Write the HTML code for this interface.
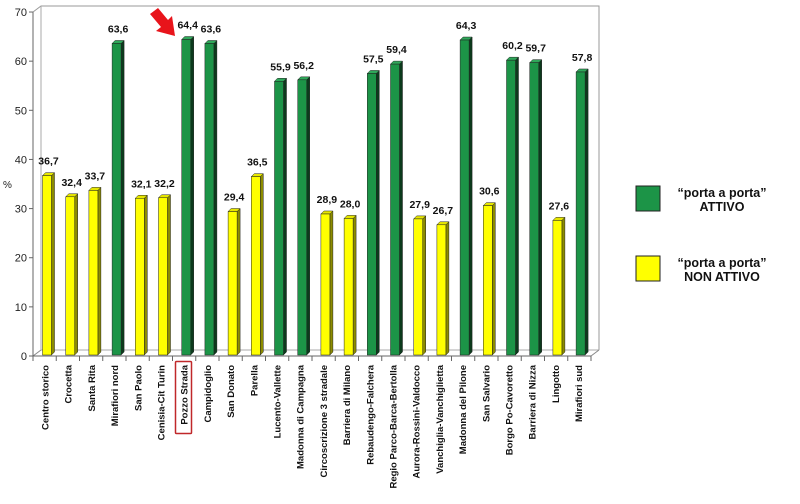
<!DOCTYPE html>
<html><head><meta charset="utf-8"><style>
html,body{margin:0;padding:0;background:#fff;width:800px;height:504px;overflow:hidden}
svg{display:block;font-family:"Liberation Sans",Arial,sans-serif}
</style></head><body>
<svg id="c" width="800" height="504" viewBox="0 0 800 504" xmlns="http://www.w3.org/2000/svg">
<polygon points="41,6 599,6 599,350 591,356 33,356 33,12" fill="#fff"/>
<polyline points="33,12 41,6 599,6 599,350" fill="none" stroke="#999" stroke-width="1"/>
<line x1="41" y1="6" x2="41" y2="350" stroke="#aaa"/>
<line x1="41" y1="350" x2="599" y2="350" stroke="#aaa"/>
<line x1="33" y1="356" x2="41" y2="350" stroke="#888"/>
<line x1="591" y1="356" x2="599" y2="350" stroke="#888"/>
<line x1="33" y1="12" x2="33" y2="357" stroke="#666"/>
<line x1="33" y1="356" x2="591" y2="356" stroke="#666"/>
<g id="g"></g>
<text x="3" y="188" font-size="10" fill="#222">%</text>
<polygon points="150,14 158,8 168,20 172,16 175,36 156,31 161,27" fill="#e8141b"/>
<rect x="175.5" y="361.5" width="16" height="72" fill="none" stroke="#c0282a" stroke-width="1.5" rx="1"/>
<rect x="636" y="186" width="24" height="25" fill="#1c9447" stroke="#222" stroke-width="1"/>
<text x="722" y="197" font-size="12.5" font-weight="bold" text-anchor="middle" fill="#111">“porta a porta”</text>
<text x="722" y="211" font-size="12.5" font-weight="bold" text-anchor="middle" fill="#111">ATTIVO</text>
<rect x="636" y="256" width="24" height="25" fill="#ffff00" stroke="#222" stroke-width="1"/>
<text x="722" y="267" font-size="12.5" font-weight="bold" text-anchor="middle" fill="#111">“porta a porta”</text>
<text x="722" y="281" font-size="12.5" font-weight="bold" text-anchor="middle" fill="#111">NON ATTIVO</text>
</svg>
<script>
var d=[["Centro storico",36.7,0],["Crocetta",32.4,0],["Santa Rita",33.7,0],["Mirafiori nord",63.6,1],["San Paolo",32.1,0],["Cenisia-Cit Turin",32.2,0],["Pozzo Strada",64.4,1],["Campidoglio",63.6,1],["San Donato",29.4,0],["Parella",36.5,0],["Lucento-Vallette",55.9,1],["Madonna di Campagna",56.2,1],["Circoscrizione 3 stradale",28.9,0],["Barriera di Milano",28.0,0],["Rebaudengo-Falchera",57.5,1],["Regio Parco-Barca-Bertolla",59.4,1],["Aurora-Rossini-Valdocco",27.9,0],["Vanchiglia-Vanchiglietta",26.7,0],["Madonna del Pilone",64.3,1],["San Salvario",30.6,0],["Borgo Po-Cavoretto",60.2,1],["Barriera di Nizza",59.7,1],["Lingotto",27.6,0],["Mirafiori sud",57.8,1]];
var s='',y0=356,k=4.914,sp=23.2;
for(var v=0;v<=70;v+=10){var y=y0-v*k;s+='<line x1="29" y1="'+y+'" x2="33" y2="'+y+'" stroke="#666"/><text x="27" y="'+(y+4)+'" font-size="11" text-anchor="end" fill="#222">'+v+'</text>';}
for(var i=0;i<=24;i++){var x=33+i*23.25;s+='<line x1="'+x+'" y1="356" x2="'+x+'" y2="361" stroke="#666"/>';}
d.forEach(function(e,i){
 var x=42.5+i*sp,w=9,t=y0-e[1]*k,b=y0-1;
 var f=e[2]?'#1c9447':'#ffff00',sd=e[2]?'#0c3a1c':'#8c8c00',tp=e[2]?'#2fa85a':'#e6e600';
 s+='<polygon points="'+(x+w)+','+b+' '+(x+w+3)+','+(b-3)+' '+(x+w+3)+','+(t-3)+' '+(x+w)+','+t+'" fill="'+sd+'" stroke="#222" stroke-width="0.5"/>';
 s+='<polygon points="'+x+','+t+' '+(x+3)+','+(t-3)+' '+(x+w+3)+','+(t-3)+' '+(x+w)+','+t+'" fill="'+tp+'" stroke="#222" stroke-width="0.5"/>';
 s+='<rect x="'+x+'" y="'+t+'" width="'+w+'" height="'+(b-t)+'" fill="'+f+'" stroke="#222" stroke-width="0.5"/>';
 s+='<text x="'+(x+6)+'" y="'+(t-11)+'" font-size="10.5" font-weight="bold" text-anchor="middle" fill="#111">'+e[1].toFixed(1).replace('.',',')+'</text>';
 var cx=x+6;
 s+='<text transform="translate('+cx+',365) rotate(-90)" font-size="9.5" font-weight="bold" text-anchor="end" fill="#111">'+e[0]+'</text>';
});
document.getElementById('g').innerHTML=s;
</script>
</body></html>
